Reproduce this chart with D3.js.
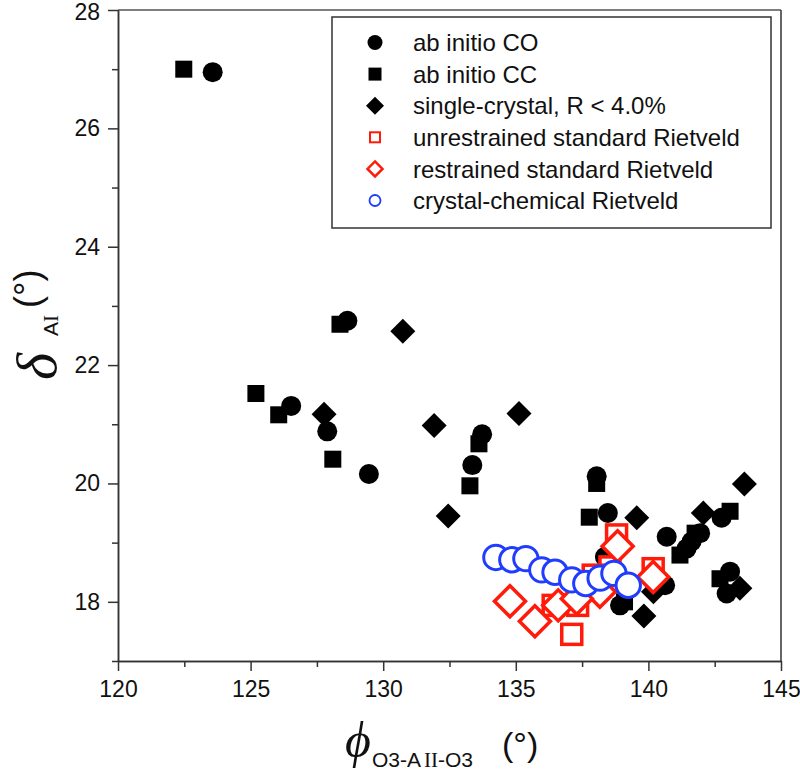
<!DOCTYPE html>
<html><head><meta charset="utf-8">
<script src="https://cdn.jsdelivr.net/npm/d3@7"></script>
<style>body{margin:0;background:#fff}svg{display:block}</style>
</head><body>
<svg id="chart" width="800" height="771"></svg>
<script>
// ---- data ----
const xMajorTicks = [120, 125, 130, 135, 140, 145];
const xMinorTicks = [122.5, 127.5, 132.5, 137.5, 142.5];
const yMajorTicks = [18, 20, 22, 24, 26, 28];
const yMinorTicks = [17, 19, 21, 23, 25, 27];

const legendLabels = ["ab initio CO", "ab initio CC", "single-crystal, R < 4.0%",
  "unrestrained standard Rietveld", "restrained standard Rietveld", "crystal-chemical Rietveld"];

const abInitioCO = [[123.57,26.95],[128.65,22.75],[126.53,21.31],[127.89,20.88],[129.46,20.16],
  [133.73,20.83],[133.36,20.31],[138.05,20.12],[138.47,19.5],[140.69,19.1],[141.44,18.9],
  [141.63,19.02],[141.95,19.16],[142.76,19.42],[143.08,18.51],[142.95,18.14],[138.93,17.94],
  [140.63,18.28],[138.36,18.76]];
const abInitioCC = [[122.48,27.0],[128.37,22.69],[125.2,21.52],[126.06,21.16],[128.10,20.41],
  [133.61,20.67],[133.27,19.96],[138.05,20.0],[137.77,19.43],[141.19,18.79],[141.76,19.16],
  [143.08,19.53],[142.7,18.39],[139.1,18.0]];
const singleCrystal = [[130.74,22.57],[127.77,21.17],[131.92,20.98],[135.12,21.18],[132.45,19.45],
  [139.56,19.42],[143.62,19.99],[142.07,19.5],[143.45,18.23],[139.83,17.76],[140.19,18.17]];
const unrestrained = [[138.8,19.13],[138.55,18.59],[140.18,18.56],[136.41,17.94],[137.33,17.94],
  [137.11,17.45],[137.92,18.45]];
const restrained = [[138.84,18.94],[140.18,18.42],[134.78,18.01],[135.72,17.67],[136.6,17.94],
  [138.17,18.17],[137.3,18.05]];
const crystalChemical = [[134.25,18.75],[134.85,18.71],[135.38,18.73],[135.98,18.54],[136.48,18.50],
  [137.11,18.37],[137.64,18.31],[138.18,18.40],[138.70,18.48],[139.24,18.28]];

// ---- layout ----
const svg = d3.select("#chart");
const L = 118, R = 781, T = 10, B = 661;
const x = d3.scaleLinear().domain([120, 145]).range([L, R]);
const y = d3.scaleLinear().domain([17, 28]).range([B, T]);
const FONT = "'Liberation Sans', Arial, Helvetica, sans-serif";
const SERIF = "'Liberation Serif', 'Times New Roman', serif";
const axisColor = "#333";

// frame (top & right)
svg.append("line").attr("x1", L).attr("x2", R).attr("y1", T).attr("y2", T)
  .attr("stroke", "#555").attr("stroke-width", 1.5);
svg.append("line").attr("x1", R).attr("x2", R).attr("y1", T).attr("y2", B)
  .attr("stroke", axisColor).attr("stroke-width", 1.5);

function styleAxis(g) {
  g.selectAll("path.domain").attr("stroke", axisColor).attr("stroke-width", 1.5);
  g.selectAll(".tick line").attr("stroke", axisColor).attr("stroke-width", 1.5);
  g.selectAll(".tick text").attr("font-family", FONT).attr("font-size", 23).attr("fill", "#111");
}

const gx = svg.append("g").attr("transform", `translate(0,${B})`)
  .call(d3.axisBottom(x).tickValues(xMajorTicks).tickSize(10).tickSizeOuter(0).tickPadding(10)
    .tickFormat(d3.format("d")));
styleAxis(gx);
const gxm = svg.append("g").attr("transform", `translate(0,${B})`)
  .call(d3.axisBottom(x).tickValues(xMinorTicks).tickSize(6).tickSizeOuter(0).tickFormat(""));
styleAxis(gxm);

const gy = svg.append("g").attr("transform", `translate(${L},0)`)
  .call(d3.axisLeft(y).tickValues(yMajorTicks).tickSize(10).tickSizeOuter(0).tickPadding(8)
    .tickFormat(d3.format("d")));
styleAxis(gy);
gy.selectAll(".tick text").filter(d => d === 28).attr("dy", "0.42em");
const gym = svg.append("g").attr("transform", `translate(${L},0)`)
  .call(d3.axisLeft(y).tickValues(yMinorTicks).tickSize(6).tickSizeOuter(0).tickFormat(""));
styleAxis(gym);

// ---- marker helpers ----
function diamondPath(h) { return `M0,${-h}L${h},0L0,${h}L${-h},0Z`; }

function drawCircles(data, r, fill, stroke, sw) {
  svg.append("g").selectAll("circle").data(data).join("circle")
    .attr("cx", d => x(d[0])).attr("cy", d => y(d[1])).attr("r", r)
    .attr("fill", fill).attr("stroke", stroke).attr("stroke-width", sw);
}
function drawSquares(data, s, fill, stroke, sw) {
  svg.append("g").selectAll("rect").data(data).join("rect")
    .attr("x", d => x(d[0]) - s / 2).attr("y", d => y(d[1]) - s / 2)
    .attr("width", s).attr("height", s)
    .attr("fill", fill).attr("stroke", stroke).attr("stroke-width", sw);
}
function drawDiamonds(data, h, fill, stroke, sw) {
  svg.append("g").selectAll("path").data(data).join("path")
    .attr("transform", d => `translate(${x(d[0])},${y(d[1])})`)
    .attr("d", diamondPath(h))
    .attr("fill", fill).attr("stroke", stroke).attr("stroke-width", sw);
}

const RED = "#ff1a0a", BLUE = "#1f3cff";

drawCircles(abInitioCO, 10, "#000", "none", 0);
drawSquares(abInitioCC, 17, "#000", "none", 0);
drawDiamonds(singleCrystal, 12.5, "#000", "none", 0);
drawSquares(unrestrained, 20, "#fff", RED, 3.5);
drawDiamonds(restrained, 15.5, "#fff", RED, 3.5);
drawCircles(crystalChemical, 12.2, "#fff", BLUE, 3);

// ---- legend ----
const lg = svg.append("g");
lg.append("rect").attr("x", 332).attr("y", 17).attr("width", 439).attr("height", 211)
  .attr("fill", "#fff").attr("stroke", "#333").attr("stroke-width", 1.5);
const rowY = i => 42.5 + i * 31.6;
const mx = 375;
legendLabels.forEach((lab, i) => {
  const cy = rowY(i);
  if (i === 0) lg.append("circle").attr("cx", mx).attr("cy", cy).attr("r", 7.5).attr("fill", "#000");
  if (i === 1) lg.append("rect").attr("x", mx - 6.5).attr("y", cy - 6.5).attr("width", 13).attr("height", 13).attr("fill", "#000");
  if (i === 2) lg.append("path").attr("transform", `translate(${mx},${cy})`).attr("d", diamondPath(9)).attr("fill", "#000");
  if (i === 3) lg.append("rect").attr("x", mx - 5).attr("y", cy - 5).attr("width", 10).attr("height", 10)
    .attr("fill", "#fff").attr("stroke", RED).attr("stroke-width", 2);
  if (i === 4) lg.append("path").attr("transform", `translate(${mx},${cy})`).attr("d", diamondPath(7.5))
    .attr("fill", "#fff").attr("stroke", RED).attr("stroke-width", 2.5);
  if (i === 5) lg.append("circle").attr("cx", mx).attr("cy", cy).attr("r", 5.5)
    .attr("fill", "#fff").attr("stroke", BLUE).attr("stroke-width", 1.8);
  lg.append("text").attr("x", 413).attr("y", cy).attr("dy", "0.36em")
    .attr("font-family", FONT).attr("font-size", 24).attr("fill", "#111").text(lab);
});

// ---- axis titles ----
const xt = svg.append("g");
xt.append("text").attr("x", 345).attr("y", 757).attr("font-family", SERIF).attr("font-style", "italic")
  .attr("font-size", 50).attr("fill", "#111").text("\u03D5");
const sub = xt.append("text").attr("x", 372).attr("y", 767).attr("font-family", FONT).attr("font-size", 21).attr("fill", "#111");
sub.append("tspan").text("O3-A");
sub.append("tspan").attr("font-family", SERIF).attr("dx", 3).text("II");
sub.append("tspan").text("-O3");
xt.append("text").attr("x", 502).attr("y", 756).attr("font-family", FONT).attr("font-size", 34)
  .attr("fill", "#111").text("(\u00B0)");

const yt = svg.append("g").attr("transform", "translate(56,380) rotate(-90)");
yt.append("text").attr("x", 0).attr("y", 0).attr("font-family", SERIF).attr("font-style", "italic")
  .attr("font-size", 58).attr("fill", "#111").text("\u03B4");
const ysub = yt.append("text").attr("x", 44).attr("y", 2).attr("font-family", FONT).attr("font-size", 21).attr("fill", "#111");
ysub.append("tspan").text("A");
ysub.append("tspan").attr("font-family", SERIF).text("I");
yt.append("text").attr("x", 72).attr("y", -16).attr("font-family", FONT).attr("font-size", 36)
  .attr("fill", "#111").text("(\u00B0)");
</script>
</body></html>
